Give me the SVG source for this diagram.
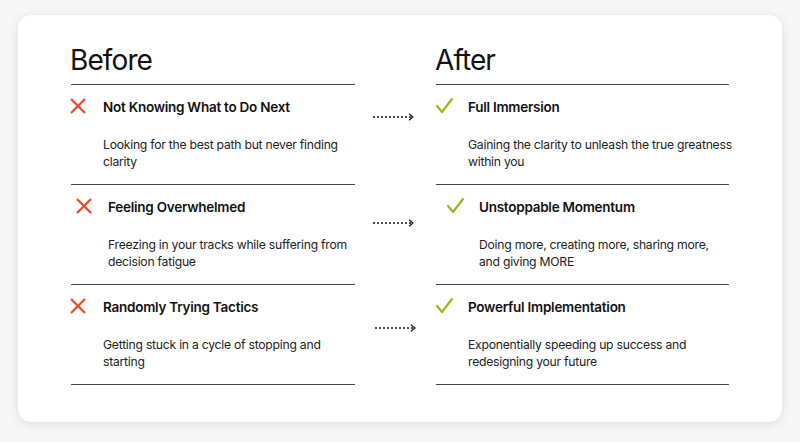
<svg xmlns="http://www.w3.org/2000/svg" width="800" height="442" viewBox="0 0 800 442">
<defs>
<filter id="sh" x="-5%" y="-5%" width="110%" height="115%"><feDropShadow dx="0" dy="2" stdDeviation="5" flood-color="#000" flood-opacity="0.1"/></filter>
<marker id="ah" viewBox="0 0 10 10" refX="8" refY="5" markerWidth="8" markerHeight="8" markerUnits="userSpaceOnUse" orient="auto"><path d="M3,1 L8,5 L3,9" fill="none" stroke="#111" stroke-width="1.4"/></marker>
</defs>
<style>
.h{font-family:Inter,"Liberation Sans",sans-serif;font-size:28px;fill:#111;letter-spacing:-0.9px}
.t{font-family:Inter,"Liberation Sans",sans-serif;font-size:13.5px;font-weight:600;fill:#111;letter-spacing:-0.25px}
.b{font-family:Inter,"Liberation Sans",sans-serif;font-size:12.2px;fill:#222;letter-spacing:-0.25px}
.rule{stroke:#444;stroke-width:1}
.x{stroke:#ee4a2a;stroke-width:2.3;fill:none}
.c{stroke:#9bb51f;stroke-width:2.2;fill:none;stroke-linecap:round}
.ar{stroke:#111;stroke-width:1.3;stroke-dasharray:2 2;fill:none}
</style>
<rect width="800" height="442" fill="#f6f6f6"/>
<rect x="18" y="15" width="764" height="407" rx="14" fill="#fff" filter="url(#sh)"/>
<text class="h" x="70" y="70">Before</text>
<text class="h" x="435" y="70">After</text>
<g id="rules">
<line class="rule" x1="71" y1="84.5" x2="355" y2="84.5"/><line class="rule" x1="71" y1="184.5" x2="355" y2="184.5"/><line class="rule" x1="71" y1="284.5" x2="355" y2="284.5"/><line class="rule" x1="71" y1="384.5" x2="355" y2="384.5"/>
<line class="rule" x1="436" y1="84.5" x2="729" y2="84.5"/><line class="rule" x1="436" y1="184.5" x2="729" y2="184.5"/><line class="rule" x1="436" y1="284.5" x2="729" y2="284.5"/><line class="rule" x1="436" y1="384.5" x2="729" y2="384.5"/>
</g>
<g id="before1"><path class="x" d="M71,99 L85,113 M85,99 L71,113"/><text class="t" x="103" y="112">Not Knowing What to Do Next</text><text class="b" x="103" y="149">Looking for the best path but never finding</text><text class="b" x="103" y="166">clarity</text></g>
<g id="before2"><path class="x" d="M77,199 L91,213 M91,199 L77,213"/><text class="t" x="108" y="212">Feeling Overwhelmed</text><text class="b" x="108" y="249">Freezing in your tracks while suffering from</text><text class="b" x="108" y="266">decision fatigue</text></g>
<g id="before3"><path class="x" d="M71,299 L85,313 M85,299 L71,313"/><text class="t" x="103" y="312">Randomly Trying Tactics</text><text class="b" x="103" y="349">Getting stuck in a cycle of stopping and</text><text class="b" x="103" y="366">starting</text></g>
<g id="after1"><path class="c" d="M437,106 L442,112 L452,99"/><text class="t" x="468" y="112">Full Immersion</text><text class="b" x="468" y="149">Gaining the clarity to unleash the true greatness</text><text class="b" x="468" y="166">within you</text></g>
<g id="after2"><path class="c" d="M448,206 L453,212 L463,199"/><text class="t" x="479" y="212">Unstoppable Momentum</text><text class="b" x="479" y="249">Doing more, creating more, sharing more,</text><text class="b" x="479" y="266">and giving MORE</text></g>
<g id="after3"><path class="c" d="M437,306 L442,312 L452,299"/><text class="t" x="468" y="312">Powerful Implementation</text><text class="b" x="468" y="349">Exponentially speeding up success and</text><text class="b" x="468" y="366">redesigning your future</text></g>
<g id="connectors">
<line class="ar" x1="373" y1="117" x2="413" y2="117" marker-end="url(#ah)"/>
<line class="ar" x1="373" y1="223" x2="413" y2="223" marker-end="url(#ah)"/>
<line class="ar" x1="375" y1="328" x2="415" y2="328" marker-end="url(#ah)"/>
</g>
</svg>
